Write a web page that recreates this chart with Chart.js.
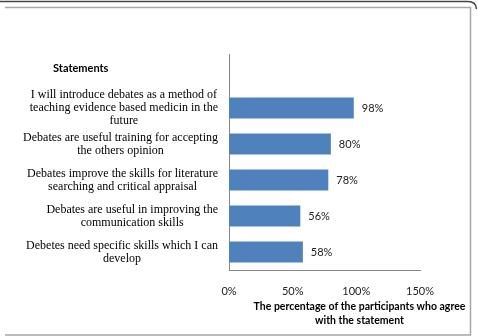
<!DOCTYPE html>
<html><head><meta charset="utf-8">
<script src="https://cdn.jsdelivr.net/npm/chart.js@4.4.0/dist/chart.umd.min.js"></script>
<style>html,body{margin:0;padding:0;background:#fff;} #wrap{position:relative;width:478px;height:336px;}</style>
</head><body><div id="wrap"><canvas id="c" width="478" height="336"></canvas></div>
<script>
const headingLabel = 'Statements';
const categories = [
  '',
  ['I will introduce debates as a method of', 'teaching evidence based medicin in the', 'future'],
  ['Debates are useful training for accepting', 'the others opinion'],
  ['Debates improve the skills for literature', 'searching and critical appraisal'],
  ['Debates are useful in improving the', 'communication skills'],
  ['Debetes need specific skills which I can', 'develop']
];
const agreePercent = [null, 98, 80, 78, 56, 58];
const xTickValues = [0, 50, 100, 150];
const xAxisTitle = ['The percentage of the participants who agree', 'with the statement'];

const SERIF = '12px "Liberation Serif", "Times New Roman", serif';
const SANS = 'Lato, "Open Sans", sans-serif';

const framePlugin = {
  id: 'frame',
  beforeDraw(chart) {
    const ctx = chart.ctx;
    ctx.save();
    ctx.fillStyle = '#fff';
    ctx.fillRect(0, 0, chart.width, chart.height);
    ctx.strokeStyle = '#444';
    ctx.lineWidth = 1.5;
    ctx.beginPath();
    ctx.moveTo(0, 1.5);
    ctx.lineTo(468, 1.5);
    ctx.quadraticCurveTo(476, 1.5, 476.5, 9);
    ctx.stroke();
    ctx.strokeStyle = '#a6a6a6';
    ctx.lineWidth = 1.5;
    ctx.beginPath();
    ctx.moveTo(5, 7.5);
    ctx.lineTo(470.5, 7.5);
    ctx.lineTo(470.5, 335);
    ctx.lineTo(5, 335);
    ctx.stroke();
    ctx.restore();
  }
};

const textPlugin = {
  id: 'texts',
  afterDraw(chart) {
    const ctx = chart.ctx;
    const ys = chart.scales.y, xs = chart.scales.x;
    const area = chart.chartArea;
    ctx.save();
    // category labels: each block centered, widest line right-aligned
    ctx.font = SERIF;
    ctx.fillStyle = '#000';
    ctx.textAlign = 'center';
    ctx.textBaseline = 'middle';
    const lh = 13;
    chart.data.labels.forEach((lab, i) => {
      const lines = Array.isArray(lab) ? lab : [lab];
      if (!lines[0]) return;
      const w = Math.max(...lines.map(l => ctx.measureText(l).width));
      const cx = area.left - 11 - w / 2;
      const cy = ys.getPixelForValue(i);
      lines.forEach((l, k) => {
        ctx.fillText(l, cx, cy + (k - (lines.length - 1) / 2) * lh);
      });
    });
    // heading
    ctx.font = 'bold 11px ' + SANS;
    ctx.fillStyle = '#000';
    ctx.textAlign = 'left';
    ctx.fillText(headingLabel, area.left - 176, ys.getPixelForValue(0) - 4);
    // value labels
    ctx.font = '11px ' + SANS;
    ctx.fillStyle = '#222';
    const meta = chart.getDatasetMeta(0);
    meta.data.forEach((bar, i) => {
      const v = chart.data.datasets[0].data[i];
      if (v === null || v === undefined) return;
      ctx.fillText(v + '%', bar.x + 8, bar.y);
    });
    // x axis title
    ctx.font = 'bold 10.5px ' + SANS;
    ctx.fillStyle = '#000';
    ctx.textAlign = 'center';
    const tx = (xs.left + xs.right) / 2 + 35;
    xAxisTitle.forEach((t, k) => ctx.fillText(t, tx, xs.bottom - 29 + k * 14));
    ctx.restore();
  }
};

new Chart(document.getElementById('c'), {
  type: 'bar',
  data: {
    labels: categories,
    datasets: [{
      data: agreePercent,
      backgroundColor: '#4f81bd',
      borderWidth: 0,
      barPercentage: 0.58,
      categoryPercentage: 1
    }]
  },
  options: {
    indexAxis: 'y',
    responsive: false,
    animation: false,
    layout: { padding: { top: 54, right: 58, left: 0, bottom: 0 } },
    plugins: { legend: { display: false }, tooltip: { enabled: false }, title: { display: false } },
    scales: {
      y: {
        grid: { display: false, drawTicks: false },
        border: { display: true, color: '#888', width: 1 },
        ticks: { display: false },
        afterFit(s) { s.width = 229; }
      },
      x: {
        min: 0, max: 150,
        afterBuildTicks(s) { s.ticks = xTickValues.map(v => ({ value: v })); },
        grid: { display: false, drawTicks: false },
        border: { display: true, color: '#888', width: 1 },
        ticks: { callback: v => v + '%', font: { family: SANS, size: 11 }, color: '#222', padding: 15, autoSkip: false, maxRotation: 0 },
        afterFit(s) { s.height = 66; }
      }
    }
  },
  plugins: [framePlugin, textPlugin]
});
</script>
</body></html>
